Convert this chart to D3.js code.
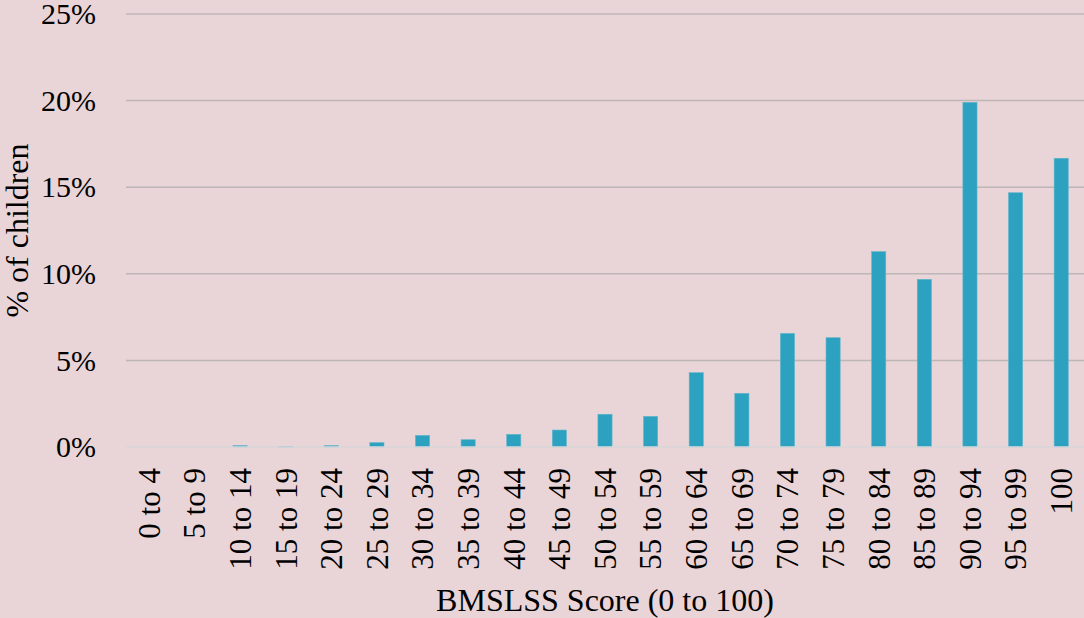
<!DOCTYPE html>
<html>
<head>
<meta charset="utf-8">
<script src="https://cdn.jsdelivr.net/npm/d3@7"></script>
<style>
  html, body { margin: 0; padding: 0; background: #e9d4d7; }
  svg text { font-family: "Liberation Serif", "Times New Roman", serif; fill: #000; }
</style>
</head>
<body>
<div id="chart"></div>
<script>
const categories = ['0 to 4','5 to 9','10 to 14','15 to 19','20 to 24','25 to 29','30 to 34','35 to 39',
  '40 to 44','45 to 49','50 to 54','55 to 59','60 to 64','65 to 69','70 to 74','75 to 79',
  '80 to 84','85 to 89','90 to 94','95 to 99','100']
const values = [0, 0, 0.08, 0.02, 0.08, 0.25, 0.67, 0.42, 0.73, 0.98, 1.89, 1.77, 4.29, 3.1,
  6.56, 6.31, 11.28, 9.68, 19.9, 14.68, 16.67]
const yTicks = [0, 5, 10, 15, 20, 25]

const width = 1084, height = 618
const margin = {left: 126, right: 0, top: 14, bottom: 171}

const svg = d3.select('#chart')
  .append('svg')
  .attr('width', width)
  .attr('height', height)
  .style('background-color', '#e9d4d7')

const xScale = d3.scaleBand()
  .domain(categories)
  .range([margin.left, width - margin.right])
  .paddingInner(0.69)
  .paddingOuter(0.345)

const yScale = d3.scaleLinear()
  .domain([0, 25])
  .range([height - margin.bottom, margin.top])

// gridlines
svg.append('g')
  .selectAll('line')
  .data(yTicks.filter(d => d > 0))
  .enter()
  .append('line')
  .attr('x1', margin.left)
  .attr('x2', width - margin.right)
  .attr('y1', d => yScale(d))
  .attr('y2', d => yScale(d))
  .attr('stroke', '#bcb6b7')
  .attr('stroke-width', 1.5)

const yAxis = d3.axisLeft(yScale).tickValues(yTicks).tickFormat(d => d + '%').tickSize(0).tickPadding(30)
svg.append('g')
  .attr('transform', `translate(${margin.left},0)`)
  .call(yAxis)
  .call(g => g.select('.domain').remove())
  .selectAll('text')
  .style('font-size', '30px')

// bars
svg.selectAll('rect.bar')
  .data(values)
  .enter()
  .append('rect')
  .attr('class', 'bar')
  .attr('x', (d, i) => xScale(categories[i]))
  .attr('y', d => yScale(d))
  .attr('width', xScale.bandwidth())
  .attr('height', d => yScale(0) - yScale(d))
  .attr('fill', '#2ca2c0')
  .attr('stroke', '#5fb6cc')
  .attr('stroke-width', 0.6)

// baseline
svg.append('line')
  .attr('x1', margin.left)
  .attr('x2', width - margin.right)
  .attr('y1', yScale(0))
  .attr('y2', yScale(0))
  .attr('stroke', '#d9d7d8')
  .attr('stroke-width', 1.5)

const xAxis = d3.axisBottom(xScale).tickSize(0)
svg.append('g')
  .attr('transform', `translate(0,${yScale(0)})`)
  .call(xAxis)
  .call(g => g.select('.domain').remove())
  .selectAll('text')
  .style('font-size', '31px')
  .attr('text-anchor', 'end')
  .attr('transform', 'rotate(-90)')
  .attr('x', -21)
  .attr('y', 0)
  .attr('dy', '0.35em')

svg.append('text')
  .text('BMSLSS Score (0 to 100)')
  .attr('x', (margin.left + width - margin.right) / 2)
  .attr('y', 611)
  .attr('text-anchor', 'middle')
  .style('font-size', '32px')

svg.append('text')
  .text('% of children')
  .attr('transform', 'rotate(-90)')
  .attr('x', -(yScale(0) + yScale(25)) / 2)
  .attr('y', 28)
  .attr('text-anchor', 'middle')
  .style('font-size', '32px')
</script>
</body>
</html>
